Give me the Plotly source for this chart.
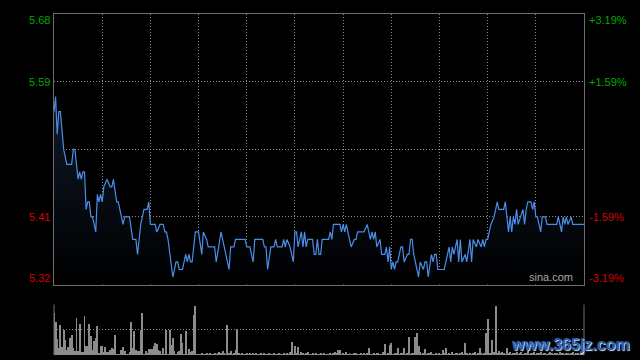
import plotly.graph_objects as go

# ---- intraday price (minute index from open, HK session 330 min) ----
minutes = [0,1,2,3,4,6,7,8,11,12,13,15,16,17,18,19,20,21,22,23,24,25,26,27,28,29,30,31,33,35,36,37,39,40,43,44,47,49,51,52,54,56,58,59,60,63,64,66,68,69,70,71,73,74,76,77,78,80,82,83,84,85,86,88,90,92,93,95,96,100,101,104,106,107,109,110,112,113,119,120,122,124,125,130,131,132,133,135,137,138,139,142,143,144,145,147,149,150,151,152,154,155,156,157,158,161,162,163,164,165,166,167,171,172,173,174,178,179,180,181,182,183,185,187,188,189,193,195,196,197,198,199,200,201,203,204,206,207,208,209,210,211,212,213,214,216,217,218,220,221,222,223,224,225,226,227,228,230,231,232,233,235,236,237,238,239,243,244,245,246,247,248,249,251,252,253,254,256,257,259,260,261,263,264,266,267,268,269,270,271,272,274,275,276,277,280,281,282,283,284,285,286,287,288,289,292,293,294,295,297,298,299,300,301,302,303,304,306,307,313,314,315,316,317,318,319,320,322,323,330]
prices = [5.55,5.57,5.52,5.55,5.55,5.50,5.49,5.48,5.48,5.50,5.50,5.46,5.47,5.46,5.47,5.47,5.42,5.43,5.43,5.41,5.41,5.40,5.39,5.44,5.43,5.44,5.43,5.45,5.46,5.45,5.45,5.46,5.43,5.43,5.40,5.41,5.41,5.38,5.38,5.36,5.40,5.42,5.42,5.43,5.40,5.40,5.39,5.40,5.40,5.39,5.39,5.38,5.35,5.33,5.35,5.35,5.34,5.34,5.36,5.35,5.36,5.35,5.35,5.39,5.39,5.36,5.39,5.38,5.37,5.37,5.35,5.39,5.37,5.36,5.34,5.37,5.37,5.38,5.38,5.37,5.37,5.35,5.38,5.38,5.37,5.37,5.34,5.37,5.37,5.38,5.37,5.37,5.38,5.37,5.38,5.37,5.35,5.39,5.39,5.37,5.39,5.37,5.39,5.37,5.38,5.38,5.36,5.36,5.38,5.36,5.36,5.38,5.38,5.39,5.38,5.40,5.40,5.39,5.40,5.39,5.40,5.39,5.37,5.38,5.38,5.39,5.39,5.40,5.39,5.38,5.39,5.38,5.39,5.37,5.38,5.36,5.36,5.37,5.35,5.37,5.34,5.35,5.34,5.35,5.35,5.37,5.37,5.35,5.36,5.36,5.38,5.38,5.36,5.35,5.34,5.33,5.35,5.34,5.35,5.35,5.33,5.36,5.35,5.36,5.36,5.34,5.34,5.35,5.36,5.37,5.35,5.37,5.36,5.38,5.35,5.38,5.35,5.36,5.35,5.38,5.35,5.38,5.37,5.38,5.37,5.38,5.37,5.38,5.38,5.39,5.40,5.41,5.42,5.43,5.42,5.42,5.43,5.41,5.39,5.41,5.39,5.41,5.40,5.42,5.40,5.42,5.40,5.42,5.43,5.43,5.42,5.43,5.41,5.41,5.40,5.39,5.41,5.41,5.40,5.40,5.41,5.40,5.39,5.41,5.40,5.41,5.40,5.41,5.40,5.40]

# ---- per-minute volume (relative units) ----
volume = [
    85,67,32,15,61,16,51,30,11,17,
    34,40,14,9,75,9,63,6,6,79,
    18,18,63,39,10,28,34,59,4,18,
    18,6,16,6,7,10,14,12,41,3,
    2,1,10,16,8,2,1,6,67,14,
    49,10,8,8,51,85,1,8,4,12,
    12,12,18,24,22,10,8,1,14,2,
    51,2,51,20,34,9,1,6,8,43,
    24,2,49,2,12,6,8,81,98,3,
    3,2,4,3,2,5,3,4,2,3,
    5,3,4,6,5,8,4,3,61,4,
    8,3,5,10,53,4,3,5,2,3,
    4,2,5,3,4,2,4,3,2,5,
    3,4,2,3,5,2,3,4,2,3,
    4,3,2,5,3,4,2,6,26,3,
    18,4,16,3,6,4,3,4,6,3,
    3,5,2,4,3,2,4,3,5,2,
    3,2,4,3,5,6,4,10,10,3,
    4,2,6,3,4,2,3,5,4,3,
    2,4,3,5,3,4,14,3,2,4,
    3,5,4,3,2,6,22,3,4,20,
    24,3,5,4,14,3,5,4,14,3,
    4,36,3,5,4,36,45,18,6,3,
    4,12,3,5,4,6,3,2,4,3,
    5,3,10,4,14,3,4,2,6,3,
    4,5,3,4,6,3,24,4,3,5,
    3,4,6,3,4,14,5,3,4,45,
    73,5,4,30,6,98,5,8,4,6,
    5,3,14,4,6,3,5,4,7,3,
    4,6,3,5,4,8,3,5,4,6,
    3,5,4,6,3,4,5,3,4,6,
    4,3,5,4,3,6,4,5,3,4,
    5,3,4,6,3,5,4,3,5,4,
    6,
]
vol_minutes = list(range(len(volume)))

prev_close = 5.50
grid_prices = [5.59, 5.50, 5.41]
left_labels = ["5.68", "5.59", "5.41", "5.32"]
label_prices = [5.68, 5.59, 5.41, 5.32]
right_labels = ["+3.19%", "+1.59%", "-1.59%", "-3.19%"]
label_shift = [-6, 0, 0, 7]
GREEN, RED = "#00a800", "#d80000"
label_colors = [GREEN, GREEN, RED, RED]

FONT = "Liberation Sans, Arial, sans-serif"
GRID = "#8a8a8a"
FRAME = "#6e6e6e"

fig = go.Figure()
fig.add_trace(go.Scatter(
    x=minutes, y=prices, mode="lines",
    line=dict(color="#4a8ee8", width=1.2),
    fill="tozeroy",
    fillgradient=dict(type="vertical", start=5.32, stop=5.57,
                      colorscale=[[0, "rgb(0,0,0)"], [1, "rgb(15,25,40)"]]),
    hoverinfo="skip", xaxis="x", yaxis="y"))
fig.add_trace(go.Bar(
    x=vol_minutes, y=volume, width=0.6,
    marker=dict(color="#8c8c8c", line=dict(width=0)),
    hoverinfo="skip", xaxis="x2", yaxis="y2"))

price_dom = [0.2067, 1.0]
vol_dom = [0.0, 0.148]

fig.update_layout(
    width=640, height=360,
    margin=dict(l=54, r=56, t=14, b=5),
    paper_bgcolor="black", plot_bgcolor="black",
    showlegend=False, bargap=0,
    xaxis=dict(domain=[0, 1], range=[0, 330], tick0=0, dtick=30,
               showticklabels=False, ticks="", showgrid=True,
               gridcolor=GRID, griddash="1px,2px", gridwidth=1,
               showline=True, linecolor=FRAME, linewidth=1, mirror=True,
               zeroline=False, anchor="y"),
    yaxis=dict(domain=price_dom, range=[5.32, 5.68], tickvals=grid_prices,
               showticklabels=False, ticks="", showgrid=True,
               gridcolor=GRID, griddash="1px,2px", gridwidth=1,
               showline=True, linecolor=FRAME, linewidth=1, mirror=True,
               zeroline=False, anchor="x"),
    xaxis2=dict(domain=[0, 1], range=[0, 330], showticklabels=False,
                ticks="", showgrid=False, zeroline=False, showline=False,
                anchor="y2"),
    yaxis2=dict(domain=vol_dom, range=[0, 100], tickvals=[0, 50, 100],
                showticklabels=False, ticks="", showgrid=True,
                gridcolor=GRID, griddash="1px,2px", gridwidth=1,
                zeroline=False, showline=False, anchor="x2"),
)

# volume panel side borders
for xp in (0, 1):
    fig.add_shape(type="line", xref="paper", yref="y2 domain",
                  x0=xp, x1=xp, y0=0, y1=1,
                  line=dict(color=FRAME, width=1))

for txt, p, col, sh in zip(left_labels, label_prices, label_colors, label_shift):
    fig.add_annotation(xref="paper", yref="y", x=0, y=p, text=txt,
                       xanchor="right", yanchor="middle", xshift=-2, yshift=sh,
                       showarrow=False, font=dict(family=FONT, size=11, color=col))
for txt, p, col, sh in zip(right_labels, label_prices, label_colors, label_shift):
    fig.add_annotation(xref="paper", yref="y", x=1, y=p, text=txt,
                       xanchor="left", yanchor="middle", xshift=3, yshift=sh,
                       showarrow=False, font=dict(family=FONT, size=11, color=col))

fig.add_annotation(xref="paper", yref="y domain", x=0.983, y=0.0, text="sina.com",
                   xanchor="right", yanchor="bottom", yshift=0,
                   showarrow=False, font=dict(family=FONT, size=11, color="#a8a8a8"))

fig.add_annotation(xref="paper", yref="paper", x=1.09, y=0.03, text="<b>www.365jz.com</b>",
                   xanchor="right", yanchor="middle", showarrow=False,
                   font=dict(family=FONT, size=16, color="#2b5fae",
                             shadow="1px 1px 1px #e0e8f8"))

fig.write_html("out.html")
